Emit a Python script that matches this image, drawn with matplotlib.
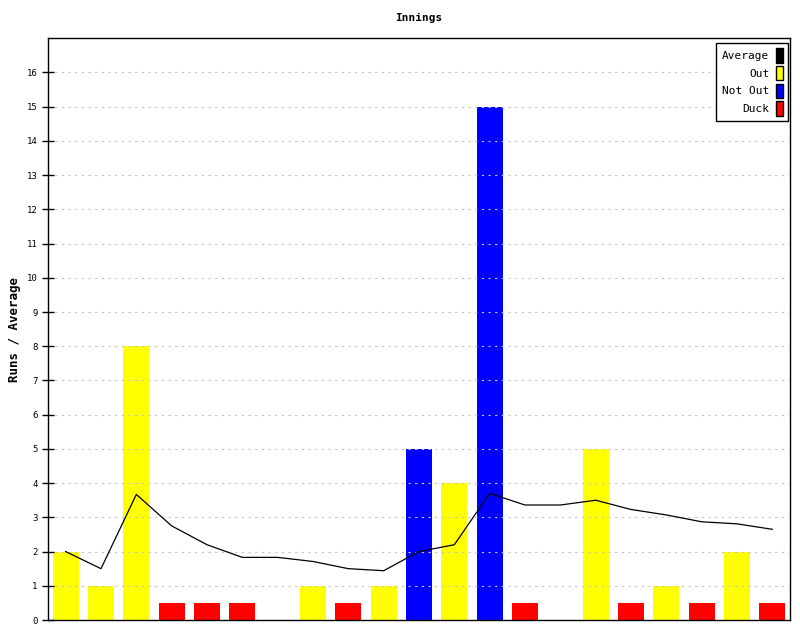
import matplotlib
matplotlib.use("Agg")
import matplotlib.pyplot as plt
from matplotlib.patches import Patch

# innings data
runs = [2, 1, 8, 0, 0, 0, 0, 1, 0, 1, 5, 4, 15, 0, 0, 5, 0, 1, 0, 2, 0]
result = ["out", "out", "out", "duck", "duck", "duck", "none", "out", "duck", "out",
          "notout", "out", "notout", "duck", "none", "out", "duck", "out", "duck", "out", "duck"]
average = [2.0, 1.5, 3.67, 2.75, 2.2, 1.83, 1.83, 1.71, 1.5, 1.44,
           2.0, 2.2, 3.7, 3.36, 3.36, 3.5, 3.23, 3.07, 2.87, 2.81, 2.65]

colours = {"out": "#ffff00", "notout": "#0000ff", "duck": "#ff0000", "none": "white"}
duck_height = 0.5

plt.rcParams["font.family"] = "DejaVu Sans Mono"
plt.rcParams["font.size"] = 7

fig = plt.figure(figsize=(8, 6.4), dpi=100)
ax = fig.add_axes([0.06, 0.03125, 0.9275, 0.909])

x = list(range(len(runs)))
heights = [duck_height if r == "duck" else v for v, r in zip(runs, result)]
ax.bar(x, heights, width=0.74, color=[colours[r] for r in result], zorder=1)
ax.plot(x, average, color="black", linewidth=0.9, zorder=3)

ax.set_xlim(-0.5, len(runs) - 0.5)
ax.set_ylim(0, 17)
ax.set_yticks(range(0, 17))
ax.set_xticks([])
ax.tick_params(axis="y", direction="inout", length=8, width=1, labelsize=6.5)
ax.yaxis.grid(True, linestyle=(0, (2, 4)), color="#c4c4c4", linewidth=0.8, zorder=2)
ax.set_axisbelow(False)
for s in ax.spines.values():
    s.set_linewidth(1)

ax.set_title("Innings", fontsize=8, fontweight="bold", pad=12.5)
ax.set_ylabel("Runs / Average", fontsize=9, fontweight="bold")
ax.yaxis.set_label_coords(-0.037, 0.5)

handles = [Patch(facecolor="black", edgecolor="black"),
           Patch(facecolor="#ffff00", edgecolor="black"),
           Patch(facecolor="#0000ff", edgecolor="black"),
           Patch(facecolor="#ff0000", edgecolor="black")]
leg = ax.legend(handles, ["Average", "Out", "Not Out", "Duck"], loc="upper right",
                markerfirst=False, handlelength=0.6, handleheight=1.6, handletextpad=0.6,
                fancybox=False, edgecolor="black", framealpha=1, fontsize=8,
                labelspacing=0.3, borderpad=0.5, borderaxespad=0,
                bbox_to_anchor=(0.9975, 0.992))
leg.get_frame().set_linewidth(1)

fig.savefig("out.png", dpi=100)
